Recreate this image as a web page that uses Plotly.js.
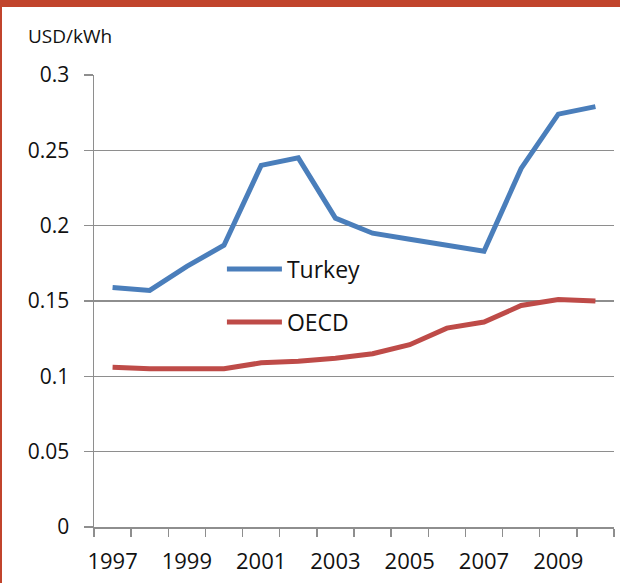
<!DOCTYPE html>
<html>
<head>
<meta charset="utf-8">
<script src="https://cdn.plot.ly/plotly-3.0.1.min.js"></script>
<style>
  html, body { margin: 0; padding: 0; background: #fff; }
  #frame { width: 618px; height: 576px; border-top: 7px solid #c1442c; border-left: 2px solid #c1442c; overflow: hidden; }
  #chart { width: 618px; height: 576px; margin-top: -7px; }
</style>
</head>
<body>
<div id="frame"><div id="chart"></div></div>
<script>
const years = [1997, 1998, 1999, 2000, 2001, 2002, 2003, 2004, 2005, 2006, 2007, 2008, 2009, 2010];
const turkey = [0.159, 0.157, 0.173, 0.187, 0.240, 0.245, 0.205, 0.195, 0.191, 0.187, 0.183, 0.238, 0.274, 0.279];
const oecd = [0.106, 0.105, 0.105, 0.105, 0.109, 0.110, 0.112, 0.115, 0.121, 0.132, 0.136, 0.147, 0.151, 0.150];
const xTickLabels = ['1997', '1999', '2001', '2003', '2005', '2007', '2009'];
const yTickVals = [0, 0.05, 0.1, 0.15, 0.2, 0.25, 0.3];
const yTickText = ['0', '0.05', '0.1', '0.15', '0.2', '0.25', '0.3'];

const FONT = '"Open Sans", "DejaVu Sans", sans-serif';
const GRID = '#8e8e8e';
const TEXT = '#111111';

const traces = [
  { x: years, y: turkey, name: 'Turkey', type: 'scatter', mode: 'lines',
    line: { color: '#4a7ebb', width: 5 }, legendgroup: 'a' },
  { x: years, y: oecd, name: 'OECD', type: 'scatter', mode: 'lines',
    line: { color: '#be4b48', width: 5 }, legendgroup: 'b' }
];

const layout = {
  width: 618, height: 583,
  margin: { l: 92, r: 6, t: 75, b: 56 },
  paper_bgcolor: '#fff', plot_bgcolor: '#fff',
  font: { family: FONT, color: TEXT, size: 21 },
  showlegend: true,
  legend: { x: 0.246, y: 0.512, xanchor: 'left', yanchor: 'middle',
    itemwidth: 55,
    font: { family: FONT, size: 23, color: TEXT },
    bgcolor: 'rgba(0,0,0,0)', tracegroupgap: 20, traceorder: 'grouped' },
  xaxis: {
    range: [1996.5, 2010.5], showgrid: false, zeroline: false,
    showline: true, linecolor: GRID, linewidth: 1.5,
    tickmode: 'array', tickvals: xTickLabels.map(Number), ticktext: xTickLabels,
    ticks: 'outside', ticklen: 8, tickcolor: 'rgba(0,0,0,0)',
    ticklabelstandoff: 6,
    minor: { tick0: 1996.5, dtick: 1, ticks: 'outside', ticklen: 8, tickcolor: GRID, tickwidth: 1.5, showgrid: false },
    tickfont: { family: FONT, size: 22, color: TEXT }
  },
  yaxis: {
    range: [0, 0.3], zeroline: false,
    showline: true, linecolor: GRID, linewidth: 1.5,
    showgrid: true, gridcolor: GRID, gridwidth: 1.5,
    tickmode: 'array', tickvals: yTickVals, ticktext: yTickText,
    ticks: 'outside', ticklen: 9, tickcolor: GRID, tickwidth: 1.5,
    ticklabelstandoff: 10,
    tickfont: { family: FONT, size: 21, color: TEXT }
  },
  annotations: [
    { text: 'USD/kWh', xref: 'paper', yref: 'paper', x: -0.13, y: 1.053,
      xanchor: 'left', yanchor: 'bottom', showarrow: false,
      font: { family: FONT, size: 19, color: TEXT } }
  ]
};

Plotly.newPlot('chart', traces, layout, { displayModeBar: false, staticPlot: true });
</script>
</body>
</html>
